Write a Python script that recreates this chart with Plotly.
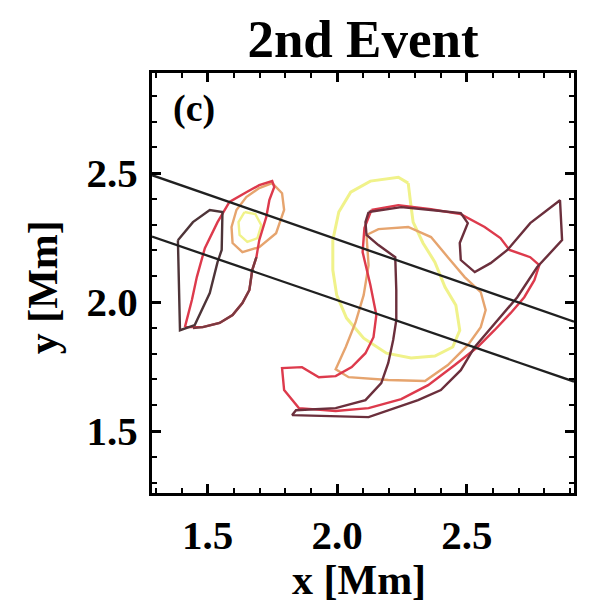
import plotly.graph_objects as go

# ---- axes ----
x_range = [1.285, 2.914]
y_range = [1.26, 2.888]
x_tickvals = [1.5, 2.0, 2.5]
x_ticktext = ["1.5", "2.0", "2.5"]
y_tickvals = [1.5, 2.0, 2.5]
y_ticktext = ["1.5", "2.0", "2.5"]

# ---- slit lines ----
slit_x = [1.285, 2.914]
slit_upper_y = [2.492, 1.924]
slit_lower_y = [2.254, 1.692]

# ---- contours (x, y in Mm) ----
left_dark_x = [1.385, 1.443, 1.508, 1.557, 1.554, 1.538, 1.508, 1.450, 1.393, 1.389, 1.385]
left_dark_y = [2.240, 2.310, 2.357, 2.349, 2.202, 2.155, 2.035, 1.911, 1.891, 2.058, 2.240]

left_red_x = [1.412, 1.439, 1.458, 1.489, 1.538, 1.584, 1.649, 1.699, 1.749, 1.757, 1.738, 1.726,
              1.699, 1.688, 1.672, 1.661, 1.634, 1.596, 1.546, 1.481, 1.412]
left_red_y = [1.903, 2.008, 2.097, 2.209, 2.310, 2.388, 2.426, 2.453, 2.469, 2.446, 2.395, 2.329,
              2.240, 2.174, 2.124, 2.047, 1.996, 1.950, 1.919, 1.903, 1.903]

left_brown_x = [1.688, 1.672, 1.661, 1.634, 1.596, 1.546, 1.481, 1.443]
left_brown_y = [2.174, 2.124, 2.047, 1.996, 1.950, 1.919, 1.903, 1.899]

left_orange_x = [1.749, 1.787, 1.795, 1.764, 1.699, 1.634, 1.596, 1.592, 1.611, 1.649, 1.699, 1.749]
left_orange_y = [2.461, 2.422, 2.357, 2.267, 2.213, 2.194, 2.229, 2.291, 2.357, 2.407, 2.442, 2.461]

left_yellow_x = [1.642, 1.684, 1.707, 1.692, 1.653, 1.623, 1.619, 1.642]
left_yellow_y = [2.349, 2.341, 2.298, 2.248, 2.233, 2.260, 2.310, 2.349]

mid_yellow_x = [2.274, 2.236, 2.128, 2.052, 2.006, 1.983, 1.983, 1.998, 2.036, 2.102, 2.190, 2.285,
                2.377, 2.446, 2.473, 2.458, 2.416, 2.377, 2.331, 2.293, 2.282, 2.274]
mid_yellow_y = [2.461, 2.484, 2.469, 2.426, 2.349, 2.240, 2.124, 2.027, 1.938, 1.860, 1.802, 1.783,
                1.791, 1.826, 1.891, 1.988, 2.058, 2.155, 2.229, 2.310, 2.395, 2.461]

mid_orange_x = [2.113, 2.159, 2.274, 2.362, 2.427, 2.492, 2.554, 2.573, 2.554, 2.504, 2.427, 2.339,
                2.197, 2.044, 1.994, 2.033, 2.071, 2.102, 2.121, 2.113]
mid_orange_y = [2.260, 2.283, 2.291, 2.252, 2.174, 2.097, 2.039, 1.969, 1.903, 1.833, 1.756, 1.694,
                1.698, 1.709, 1.740, 1.826, 1.922, 2.027, 2.143, 2.260]

mid_red_x = [2.132, 2.236, 2.362, 2.477, 2.569, 2.630, 2.665, 2.745, 2.780, 2.761, 2.722, 2.669,
             2.607, 2.542, 2.454, 2.351, 2.247, 2.121, 1.994, 1.852, 1.795, 1.787, 1.864, 1.929,
             1.994, 2.056, 2.109, 2.140, 2.151, 2.128, 2.098, 2.105, 2.132]
mid_red_y = [2.357, 2.376, 2.360, 2.341, 2.291, 2.248, 2.202, 2.174, 2.143, 2.085, 2.019, 1.957,
             1.891, 1.826, 1.756, 1.678, 1.624, 1.589, 1.578, 1.589, 1.659, 1.744, 1.748, 1.709,
             1.713, 1.748, 1.802, 1.864, 1.950, 2.066, 2.194, 2.287, 2.357]

mid_dark_x = [2.121, 2.247, 2.362, 2.477, 2.504, 2.473, 2.477, 2.531, 2.592, 2.657, 2.745, 2.860,
              2.868, 2.772, 2.695, 2.619, 2.531, 2.477, 2.400, 2.312, 2.121, 1.826, 1.841, 1.994,
              2.109, 2.170, 2.197, 2.216, 2.228, 2.228, 2.224, 2.159, 2.113, 2.109, 2.121]
mid_dark_y = [2.349, 2.368, 2.357, 2.345, 2.306, 2.229, 2.163, 2.116, 2.151, 2.202, 2.306, 2.395,
              2.240, 2.136, 2.019, 1.930, 1.826, 1.736, 1.659, 1.620, 1.554, 1.562, 1.581, 1.589,
              1.620, 1.686, 1.764, 1.853, 1.930, 2.047, 2.174, 2.221, 2.260, 2.310, 2.349]

FONT = "Liberation Serif"
C_YELLOW = "#f0f28a"
C_ORANGE = "#e6a46e"
C_RED = "#dd3a4c"
C_DARK = "#6b2f3c"
C_LDARK = "#4e3438"
C_BROWN = "#7a3a40"

fig = go.Figure()

def add(x, y, color, width=2.4):
    fig.add_trace(go.Scatter(x=x, y=y, mode="lines", line=dict(color=color, width=width),
                             hoverinfo="skip", showlegend=False))

add(left_yellow_x, left_yellow_y, C_YELLOW, 2.4)
add(mid_yellow_x, mid_yellow_y, C_YELLOW, 3.0)
add(left_orange_x, left_orange_y, C_ORANGE)
add(mid_orange_x, mid_orange_y, C_ORANGE)
add(left_red_x, left_red_y, C_RED)
add(mid_red_x, mid_red_y, C_RED)
add(left_brown_x, left_brown_y, C_BROWN)
add(left_dark_x, left_dark_y, C_LDARK)
add(mid_dark_x, mid_dark_y, C_DARK)
add(slit_x, slit_upper_y, "#202020", 2.3)
add(slit_x, slit_lower_y, "#202020", 2.3)

axis_common = dict(
    showgrid=False, zeroline=False, showline=True, linecolor="black", linewidth=3,
    mirror="ticks", ticks="inside", ticklen=9, tickwidth=2.5, tickcolor="black",
    tickfont=dict(family=FONT, size=41, color="black", weight="bold"),
    minor=dict(ticks="inside", ticklen=5, tickwidth=2, tickcolor="black", dtick=0.1, showgrid=False),
)

fig.update_xaxes(range=x_range, tickvals=x_tickvals, ticktext=x_ticktext,
                 ticklabelstandoff=4, **axis_common)
fig.update_yaxes(range=y_range, tickvals=y_tickvals, ticktext=y_ticktext,
                 ticklabelstandoff=3, **axis_common)

fig.update_layout(
    width=589, height=604,
    margin=dict(l=152, r=12, t=73, b=111, pad=0),
    paper_bgcolor="white", plot_bgcolor="white",
    title=dict(text="2nd Event", x=0.5, xref="paper", xanchor="center",
               y=1 - 38 / 604, yref="container", yanchor="middle",
               font=dict(family=FONT, size=53, color="black", weight="bold")),
    annotations=[
        dict(text="(c)", x=0.1, y=0.915, xref="paper", yref="paper", xanchor="center", yanchor="middle",
             showarrow=False, font=dict(family=FONT, size=38, color="black", weight="bold")),
        dict(text="x [Mm]", x=0.49, y=-0.207, xref="paper", yref="paper", xanchor="center", yanchor="middle",
             showarrow=False, font=dict(family=FONT, size=42, color="black", weight="bold")),
        dict(text="y [Mm]", x=-0.258, y=0.49, xref="paper", yref="paper", xanchor="center", yanchor="middle",
             textangle=-90, showarrow=False, font=dict(family=FONT, size=42, color="black", weight="bold")),
    ],
)

fig.write_html("out.html")
